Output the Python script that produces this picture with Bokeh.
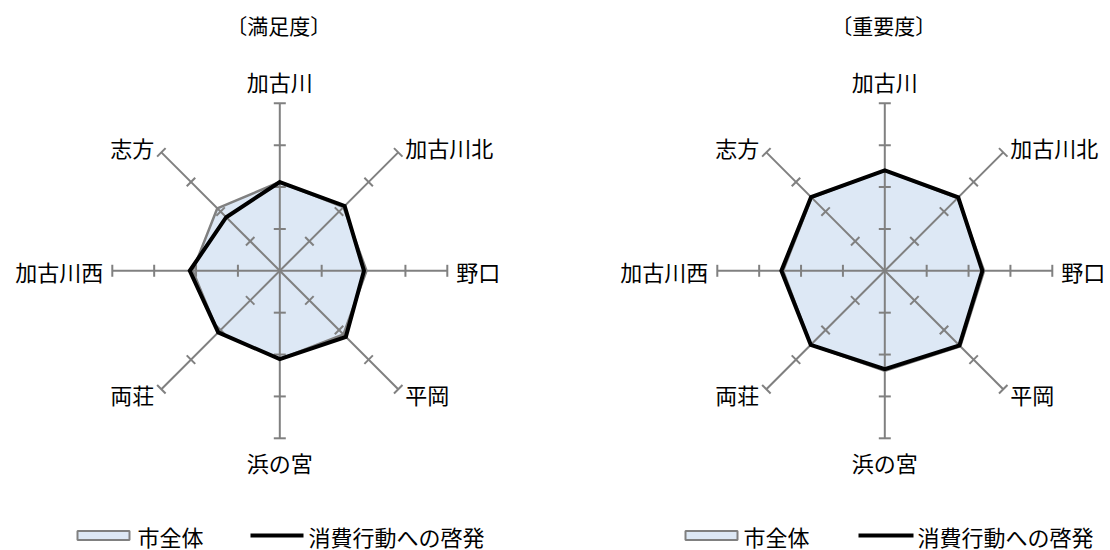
import numpy as np
from bokeh.plotting import figure
from bokeh.models import Range1d
from bokeh.core.properties import value
from bokeh.embed import file_html
from bokeh.resources import INLINE

# ---- data ----
categories = ["加古川", "加古川北", "野口", "平岡", "浜の宮", "両荘", "加古川西", "志方"]
sat_city = [2.12, 2.15, 2.07, 2.15, 2.11, 2.08, 2.08, 2.11]
sat_edu = [2.12, 2.19, 2.01, 2.23, 2.11, 2.08, 2.15, 1.81]
imp_city = [2.40, 2.46, 2.37, 2.55, 2.39, 2.50, 2.43, 2.47]
imp_edu = [2.40, 2.48, 2.33, 2.52, 2.35, 2.50, 2.47, 2.49]
titles = ["〔満足度〕", "〔重要度〕"]
legend_labels = ["市全体", "消費行動への啓発"]
axis_max = 4
tick_values = [1, 2, 3, 4]

FONT = value("Noto Sans CJK JP")
FILL = "#dde8f5"
GRAY = "#808080"

W, H = 1110, 550
p = figure(width=W, height=H, x_range=Range1d(0, W), y_range=Range1d(0, H),
           output_backend="svg", toolbar_location=None, min_border=0)
p.axis.visible = False
p.grid.visible = False
p.outline_line_color = None
p.background_fill_color = "white"

R = 167.5
n = len(categories)
theta = np.pi / 2 - np.arange(n) * 2 * np.pi / n


def pts(vals, cx, cy):
    v = np.asarray(vals, dtype=float) / axis_max * R
    return cx + v * np.cos(theta), cy + v * np.sin(theta)


label_off = [(0, 22, "center"), (7, 5, "left"), (9, 0, "left"), (7, -5, "left"),
             (0, -24, "center"), (-7, -5, "right"), (-9, 0, "right"), (-7, 5, "right")]

charts = [(279.3, 279.7, sat_city, sat_edu, titles[0]),
          (884.3, 279.7, imp_city, imp_edu, titles[1])]

for cx, cy, city, edu, title in charts:
    # city-wide series: filled polygon
    xs, ys = pts(city, cx, cy)
    p.patch(list(xs), list(ys), fill_color=FILL, line_color=GRAY, line_width=2.5)

    # axes
    ex, ey = pts([axis_max] * n, cx, cy)
    p.segment([cx] * n, [cy] * n, list(ex), list(ey), line_color=GRAY, line_width=2)
    sx0, sy0, sx1, sy1 = [], [], [], []
    for t in tick_values:
        tx, ty = pts([t] * n, cx, cy)
        for k in range(n):
            perp = theta[k] + np.pi / 2
            dx, dy = 6 * np.cos(perp), 6 * np.sin(perp)
            sx0.append(tx[k] - dx); sy0.append(ty[k] - dy)
            sx1.append(tx[k] + dx); sy1.append(ty[k] + dy)
    p.segment(sx0, sy0, sx1, sy1, line_color=GRAY, line_width=2)

    # education series: black line
    bx, by = pts(edu, cx, cy)
    p.patch(list(bx), list(by), fill_alpha=0, line_color="black", line_width=4,
            line_join="miter")

    # labels
    for k in range(n):
        ox, oy, al = label_off[k]
        p.text([ex[k] + ox], [ey[k] + oy], text=[categories[k]], text_align=al,
               text_baseline="middle", text_font=FONT, text_font_size="22px",
               text_color="black")

    # title
    p.text([cx - 1], [526], text=[title], text_align="center", text_baseline="middle",
           text_font=FONT, text_font_size="21px", text_color="black")

# legends
for sx, tx1, lx0, lx1, tx2 in [(77, 137, 250, 303, 308), (685, 743, 858, 913, 917)]:
    ly = 15
    p.quad(left=[sx], right=[sx + 52], bottom=[ly - 4.5], top=[ly + 4.5],
           fill_color=FILL, line_color=GRAY, line_width=2)
    p.text([tx1], [ly], text=[legend_labels[0]], text_align="left",
           text_baseline="middle", text_font=FONT, text_font_size="22px", text_color="black")
    p.segment([lx0], [ly], [lx1], [ly], line_color="black", line_width=4)
    p.text([tx2], [ly], text=[legend_labels[1]], text_align="left",
           text_baseline="middle", text_font=FONT, text_font_size="22px", text_color="black")

open("out.html", "w").write(file_html(p, INLINE))
